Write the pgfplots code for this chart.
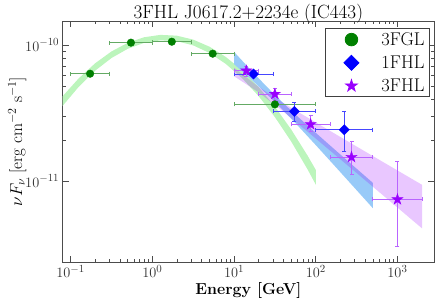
\documentclass[border=0pt]{standalone}
\usepackage{pgfplots}
\pgfplotsset{compat=1.18}
\usepackage{pgfplotstable}

\definecolor{fglgreen}{RGB}{0,128,0}
\definecolor{fglgreenerr}{RGB}{100,170,100}
\definecolor{fglband}{RGB}{188,245,188}
\definecolor{fhlblue}{RGB}{0,0,255}
\definecolor{fhlblueerr}{RGB}{70,70,255}
\definecolor{fhlband}{RGB}{152,202,248}
\definecolor{fhlpurple}{RGB}{153,0,255}
\definecolor{fhlpurpleerr}{RGB}{185,100,255}

\pgfdeclareplotmark{fstar}{%
  \pgfpathmoveto{\pgfpointpolar{90}{\pgfplotmarksize}}%
  \pgfpathlineto{\pgfpointpolar{126}{0.382\pgfplotmarksize}}%
  \pgfpathlineto{\pgfpointpolar{162}{\pgfplotmarksize}}%
  \pgfpathlineto{\pgfpointpolar{198}{0.382\pgfplotmarksize}}%
  \pgfpathlineto{\pgfpointpolar{234}{\pgfplotmarksize}}%
  \pgfpathlineto{\pgfpointpolar{270}{0.382\pgfplotmarksize}}%
  \pgfpathlineto{\pgfpointpolar{306}{\pgfplotmarksize}}%
  \pgfpathlineto{\pgfpointpolar{342}{0.382\pgfplotmarksize}}%
  \pgfpathlineto{\pgfpointpolar{18}{\pgfplotmarksize}}%
  \pgfpathlineto{\pgfpointpolar{54}{0.382\pgfplotmarksize}}%
  \pgfpathclose
  \pgfusepathqfillstroke
}

\pgfplotsset{widelegend/.style={legend image code/.code={\path[draw=none,fill=none] (0bp,0bp) (51bp,0bp); \draw[##1] plot coordinates {(23bp,0bp)};}}}

% 3FGL points: E, flux, x-, x+
\pgfplotstableread{
x y exm exp
0.1732 6.15e-11 0.0732 0.1268
0.5477 1.04e-10 0.2477 0.4523
1.732 1.057e-10 0.732 1.268
5.477 8.63e-11 2.477 4.523
31.62 3.66e-11 21.62 68.38
}\fgl

% 1FHL points
\pgfplotstableread{
x y exm exp eym eyp
17.32 6.12e-11 7.32 12.68 0.25e-11 0.25e-11
54.77 3.25e-11 24.77 45.23 0.49e-11 0.54e-11
223.6 2.38e-11 123.6 276.4 0.74e-11 0.89e-11
}\onefhl

% 3FHL points
\pgfplotstableread{
x y exm exp eym eyp
14.14 6.47e-11 4.14 5.86 0.55e-11 0.45e-11
31.62 4.36e-11 11.62 18.38 0.42e-11 0.44e-11
86.6 2.61e-11 36.6 63.4 0.28e-11 0.41e-11
273.9 1.50e-11 123.9 226.1 0.375e-11 0.45e-11
1000 7.33e-12 500 1000 4.04e-12 6.54e-12
}\threefhl

\begin{document}
\begin{tikzpicture}
\path[use as bounding box] (-62.7bp,-36bp) rectangle (384.3bp,262bp);
\begin{axis}[
  at={(0,0)}, anchor=south west,
  scale only axis, width=371.3bp, height=241bp,
  xmode=log, ymode=log,
  xmin=0.08, xmax=2800, ymin=2.54e-12, ymax=1.5e-10,
  xtick={0.1,1,10,100,1000},
  ytick={1e-11,1e-10},
  axis line style={black!70, line width=0.8bp},
  every tick/.style={black!70, line width=0.6bp},
  major tick length=6bp, minor tick length=3bp,
  ticklabel style={font=\fontsize{15}{17}\selectfont, text=black!80},
  title={3FHL J0617.2+2234e (IC443)},
  every axis title/.style={at={(axis description cs:0.5,1)}, anchor=base, yshift=2.7bp, font=\fontsize{19.2}{22}\selectfont},
  xlabel={\textbf{Energy [GeV]}},
  every axis x label/.style={at={(axis description cs:0.5,0)}, anchor=base, yshift=-32bp, font=\fontsize{16}{19}\selectfont},
  ylabel={$\nu F_\nu$ [erg cm$^{-2}$ s$^{-1}$]},
  every axis y label/.style={at={(axis description cs:-0.1096,0.5)}, anchor=base, rotate=90, font=\fontsize{17}{20}\selectfont},
  legend style={at={(axis description cs:0.989,0.971)}, anchor=north east,
    draw=black!75, line width=0.8bp, fill=white,
    font=\fontsize{18.5}{21}\selectfont, row sep=5bp},
  legend cell align=left,
]
\addlegendimage{widelegend, only marks, mark=*, mark size=6.3bp, color=fglgreen}
\addlegendentry{3FGL}
\addlegendimage{widelegend, only marks, mark=square*, mark options={rotate=45}, mark size=5.3bp, color=fhlblue}
\addlegendentry{1FHL}
\addlegendimage{widelegend, only marks, mark=fstar, mark size=6.2bp, color=fhlpurple}
\addlegendentry{3FHL}

% 3FGL log-parabola band
\addplot[forget plot, draw=none, fill=fglband] coordinates {
(0.07943,4.186e-11) (0.12589,5.691e-11) (0.19953,7.334e-11) (0.31623,8.962e-11)
(0.50119,1.0380e-10) (0.79433,1.140e-10) (1.2589,1.1862e-10) (1.9953,1.1706e-10)
(3.1623,1.0949e-10) (5.0119,9.710e-11) (7.9433,8.161e-11) (12.589,6.505e-11)
(19.953,4.914e-11) (31.623,3.519e-11) (50.119,2.389e-11) (79.433,1.5375e-11)
(100,1.209e-11)
(100,9.420e-12) (79.433,1.218e-11) (50.119,1.951e-11) (31.623,2.951e-11)
(19.953,4.217e-11) (12.589,5.691e-11) (7.9433,7.254e-11) (5.0119,8.734e-11)
(3.1623,9.931e-11) (1.9953,1.0666e-10) (1.2589,1.0819e-10) (0.79433,1.0366e-10)
(0.50119,9.380e-11) (0.31623,8.017e-11) (0.19953,6.472e-11) (0.12589,4.934e-11)
(0.07943,3.553e-11)
} -- cycle;

% 1FHL power-law band
\addplot[forget plot, draw=none, fill=fhlband] coordinates {
(10,8.901e-11) (17.783,6.121e-11) (31.623,4.285e-11) (56.234,3.085e-11)
(100,2.262e-11) (177.83,1.667e-11) (316.23,1.2325e-11) (500,9.696e-12)
(500,6.316e-12) (316.23,8.570e-12) (177.83,1.2566e-11) (100,1.8386e-11)
(56.234,2.672e-11) (31.623,3.819e-11) (17.783,5.302e-11) (10,7.234e-11)
} -- cycle;

% 3FHL power-law band
\addplot[forget plot, draw=none, fill=fhlpurple, fill opacity=0.22] coordinates {
(10,6.802e-11) (19.953,4.926e-11) (39.811,3.754e-11) (100,2.696e-11)
(251.19,1.946e-11) (630.96,1.4064e-11) (1000,1.1965e-11) (2000,9.380e-12)
(2000,4.488e-12) (1000,6.384e-12) (630.96,8.069e-12) (251.19,1.288e-11)
(100,2.053e-11) (39.811,3.254e-11) (19.953,4.493e-11) (10,5.894e-11)
} -- cycle;

% 3FGL points
\addplot[forget plot, only marks, mark=*, mark size=3.8bp, color=fglgreen,
  error bars/.cd, x dir=both, x explicit,
  error bar style={color=fglgreenerr, line width=0.8bp},
  error mark options={rotate=90, color=fglgreenerr, mark size=2bp, line width=0.8bp}]
  table[x=x, y=y, x error minus=exm, x error plus=exp] {\fgl};

% 1FHL points
\addplot[forget plot, only marks, mark=square*, mark options={rotate=45}, mark size=3.6bp, color=fhlblue,
  error bars/.cd, x dir=both, x explicit, y dir=both, y explicit,
  error bar style={color=fhlblueerr, line width=0.8bp},
  error mark options={rotate=90, color=fhlblueerr, mark size=2bp, line width=0.8bp}]
  table[x=x, y=y, x error minus=exm, x error plus=exp, y error minus=eym, y error plus=eyp] {\onefhl};

% 3FHL points
\addplot[forget plot, only marks, mark=fstar, mark size=5.8bp, color=fhlpurple,
  error bars/.cd, x dir=both, x explicit, y dir=both, y explicit,
  error bar style={color=fhlpurpleerr, line width=0.8bp},
  error mark options={rotate=90, color=fhlpurpleerr, mark size=2bp, line width=0.8bp}]
  table[x=x, y=y, x error minus=exm, x error plus=exp, y error minus=eym, y error plus=eyp] {\threefhl};
\end{axis}
\end{tikzpicture}
\end{document}
